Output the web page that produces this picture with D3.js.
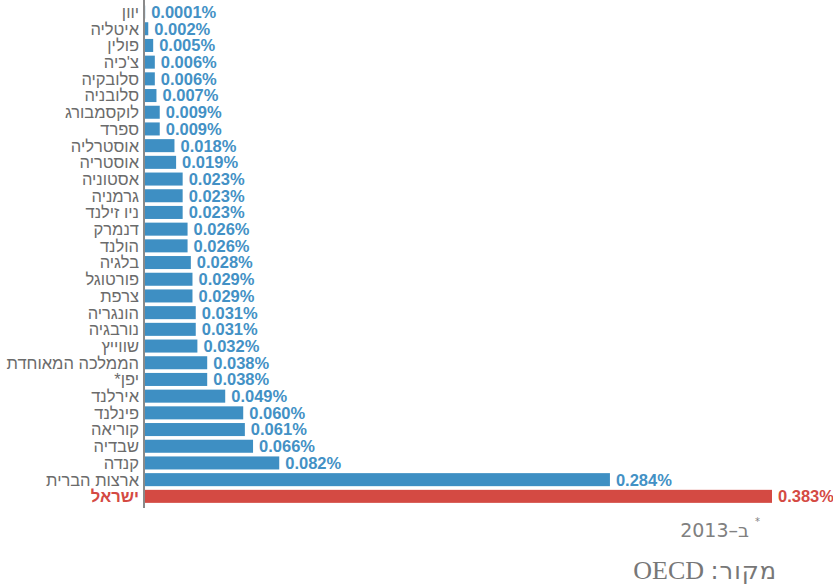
<!DOCTYPE html>
<html>
<head>
<meta charset="utf-8">
<script src="https://cdn.jsdelivr.net/npm/d3@7"></script>
<style>
  body { margin: 0; background: #fff; }
  svg { display: block; font-family: "Liberation Sans", Arial, sans-serif; }
</style>
</head>
<body>
<div id="chart"></div>
<script>
// countries top to bottom, share of GDP (%)
const countries = ['יוון', 'איטליה', 'פולין', "צ'כיה", 'סלובקיה', 'סלובניה', 'לוקסמבורג', 'ספרד',
  'אוסטרליה', 'אוסטריה', 'אסטוניה', 'גרמניה', 'ניו זילנד', 'דנמרק', 'הולנד', 'בלגיה', 'פורטוגל',
  'צרפת', 'הונגריה', 'נורבגיה', 'שווייץ', 'הממלכה המאוחדת', '*יפן', 'אירלנד', 'פינלנד', 'קוריאה',
  'שבדיה', 'קנדה', 'ארצות הברית', 'ישראל'];
const values = [0.0001, 0.002, 0.005, 0.006, 0.006, 0.007, 0.009, 0.009, 0.018, 0.019, 0.023, 0.023,
  0.023, 0.026, 0.026, 0.028, 0.029, 0.029, 0.031, 0.031, 0.032, 0.038, 0.038, 0.049, 0.060, 0.061,
  0.066, 0.082, 0.284, 0.383];
const valueLabels = ['0.0001%', '0.002%', '0.005%', '0.006%', '0.006%', '0.007%', '0.009%', '0.009%',
  '0.018%', '0.019%', '0.023%', '0.023%', '0.023%', '0.026%', '0.026%', '0.028%', '0.029%', '0.029%',
  '0.031%', '0.031%', '0.032%', '0.038%', '0.038%', '0.049%', '0.060%', '0.061%', '0.066%', '0.082%',
  '0.284%', '0.383%'];
const highlight = 'ישראל';

const data = countries.map((c, i) => ({ country: c, value: values[i], label: valueLabels[i] }));

const blue = '#3e8fc3';
const red = '#d44a43';

const svg = d3.create('svg')
  .attr('width', 833)
  .attr('height', 587);

const x = d3.scaleLinear()
  .domain([0, 0.383])
  .range([145, 772]);

const y = d3.scaleBand()
  .domain(countries)
  .range([3.7, 504.7])
  .paddingInner(0.22)
  .paddingOuter(0.11);

// bars
svg.append('g')
  .selectAll('rect')
  .data(data)
  .enter()
  .append('rect')
    .attr('x', x(0))
    .attr('y', d => y(d.country))
    .attr('width', d => x(d.value) - x(0))
    .attr('height', y.bandwidth())
    .attr('fill', d => d.country === highlight ? red : blue);

// value labels
svg.append('g')
  .selectAll('text')
  .data(data)
  .enter()
  .append('text')
    .attr('x', d => x(d.value) + 6)
    .attr('y', d => y(d.country) + y.bandwidth() / 2)
    .attr('dy', '0.36em')
    .attr('font-size', 16.5)
    .attr('font-weight', 'bold')
    .attr('fill', d => d.country === highlight ? red : '#4391c5')
    .text(d => d.label);

// country labels
svg.append('g')
  .selectAll('text')
  .data(data)
  .enter()
  .append('text')
    .attr('x', 139)
    .attr('y', d => y(d.country) + y.bandwidth() / 2)
    .attr('dy', '0.36em')
    .attr('text-anchor', 'end')
    .attr('font-size', 16.5)
    .attr('font-weight', d => d.country === highlight ? 'bold' : 'normal')
    .attr('fill', d => d.country === highlight ? red : '#6b6b6b')
    .text(d => d.country);

// axis line
svg.append('line')
  .attr('x1', 144).attr('x2', 144)
  .attr('y1', 0).attr('y2', 508)
  .attr('stroke', '#8a8a8a')
  .attr('stroke-width', 2);

// footnote
svg.append('text')
  .attr('x', 749)
  .attr('y', 537)
  .attr('direction', 'rtl')
  .attr('text-anchor', 'start')
  .attr('font-family', '"DejaVu Sans", sans-serif')
  .attr('font-size', 19)
  .attr('fill', '#808080')
  .text('ב–2013');

svg.append('text')
  .attr('x', 755)
  .attr('y', 525)
  .attr('font-family', '"DejaVu Sans", sans-serif')
  .attr('font-size', 10)
  .attr('fill', '#808080')
  .text('*');

// source
const src = svg.append('text')
  .attr('x', 777)
  .attr('y', 579)
  .attr('direction', 'rtl')
  .attr('text-anchor', 'start')
  .attr('font-family', '"Liberation Serif", "Times New Roman", serif')
  .attr('font-size', 26)
  .attr('fill', '#777');
src.append('tspan')
  .attr('font-family', '"DejaVu Sans", sans-serif')
  .attr('font-size', 24)
  .attr('letter-spacing', 1)
  .text('מקור:');
src.append('tspan')
  .text('  OECD');

d3.select('#chart')
  .node()
  .appendChild(svg.node());
</script>
</body>
</html>
